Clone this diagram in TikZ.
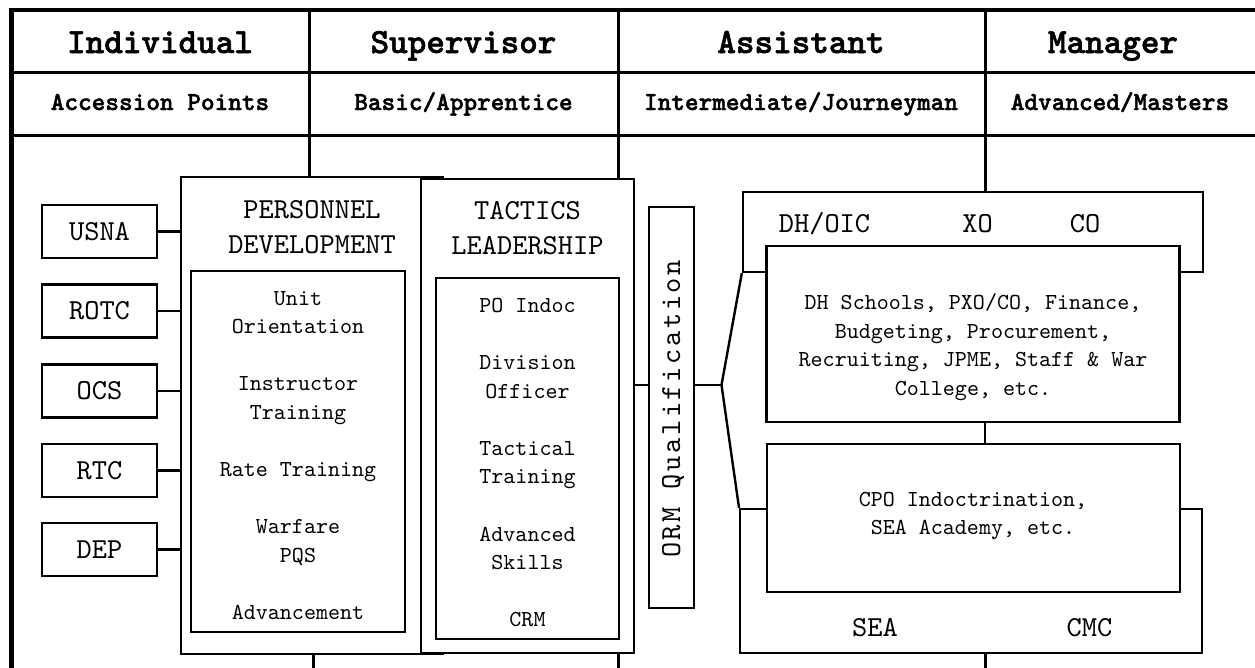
\documentclass[tikz,border=0pt]{standalone}
\usepackage{fontspec}
\setmainfont{lmmono10-regular}[Extension=.otf, BoldFont=lmmonolt10-bold, BoldFeatures={FakeBold=1.6}]
\newfontfamily\ormfont{lmmono10-regular}[Extension=.otf, LetterSpace=9]
\begin{document}
\begin{tikzpicture}[x=1pt,y=-1pt,
    grid/.style={line width=3pt},
    frame/.style={line width=4.5pt},
    box/.style={draw, line width=2.4pt, fill=white, inner sep=0pt},
    conn/.style={line width=2.4pt},
    head/.style={font=\bfseries\fontsize{35.4}{35.4}\selectfont, anchor=base, inner sep=0pt},
    lvl/.style={font=\bfseries\fontsize{26}{26}\selectfont, anchor=base, inner sep=0pt},
    big/.style={font=\fontsize{29}{35}\selectfont, align=center, inner sep=0pt},
    small/.style={font=\fontsize{22.9}{28.6}\selectfont, align=center, inner sep=0pt}]
  \useasboundingbox (0,0) rectangle (1255,667);
  % table
  \coordinate (c1) at (309,10);
  \coordinate (c2) at (618,10);
  \coordinate (c3) at (985,10);
  \draw[grid] (11.7,72.5) -- (1262,72.5) (11.7,135) -- (1262,135);
  \foreach \cc in {c1,c2,c3}
    \draw[grid] (\cc) -- ++(0,125);
  \draw[frame] (11.7,672) -- (11.7,10) -- (1262,10);
  % column heads
  \node[head] (hind) at (160,53) {Individual};
  \node[head] (hsup) at (463.5,53) {Supervisor};
  \node[head] (hass) at (801,53) {Assistant};
  \node[head] (hman) at (1113,53) {Manager};
  \node[lvl] (lacc) at (160,110) {Accession Points};
  \node[lvl] (lbas) at (463.5,110) {Basic/Apprentice};
  \node[lvl] (lint) at (801,110) {Intermediate/Journeyman};
  \node[lvl] (ladv) at (1120,110) {Advanced/Masters};
  % development and leadership
  \node[box, minimum width=262, minimum height=477] (pers) at (312,415.5) {};
  \node[box, minimum width=213, minimum height=474] (tact) at (527.5,416) {};
  \node[box, minimum width=214, minimum height=361] (persin) at (298,451.5) {};
  \node[box, minimum width=183, minimum height=361] (tactin) at (527.5,458.5) {};
  \node[big] (perstitle) at (312,227.5) {PERSONNEL\\DEVELOPMENT};
  \node[big] (tacttitle) at (527.5,228) {TACTICS\\LEADERSHIP};
  \node[small] (perslist) at (298,455.5)
    {Unit\\Orientation\\[28.6pt]Instructor\\Training\\[28.6pt]Rate Training\\[28.6pt]Warfare\\PQS\\[28.6pt]Advancement};
  \node[small] (tactlist) at (527.5,462.5)
    {PO Indoc\\[28.6pt]Division\\Officer\\[28.6pt]Tactical\\Training\\[28.6pt]Advanced\\Skills\\[28.6pt]CRM};
  \draw[grid] (c1 |- 0,135) -- (c1 |- pers.north);
  \draw[grid] (c2 |- 0,135) -- (c2 |- tact.north);
  \draw[grid] (pers.south -| 313,0) -- ++(0,20);
  \draw[grid] (tact.south -| c2) -- ++(0,20);
  % accession points
  \foreach \nm/\yy in {USNA/231.5, ROTC/311, OCS/391, RTC/470.5, DEP/549.5}
    {
     \node[box, minimum width=115, minimum height=53, font=\fontsize{29}{29}\selectfont] (\nm) at (99.5,\yy) {\nm};
     \draw[conn] (\nm.east) -- (\nm.east -| pers.west);
    }
  % ORM
  \node[box, minimum width=45, minimum height=401] (orm) at (671.5,407.5) {};
  \node[rotate=90, font=\ormfont\fontsize{29}{29}\selectfont, inner sep=0pt] (ormtxt) at (673,409) {ORM Qualification};
  \coordinate (jn) at (721.5,385);
  \draw[conn] (tact.east |- jn) -- (orm.west |- jn) (orm.east |- jn) -- (jn);
  % officer and enlisted paths
  \node[box, minimum width=460, minimum height=80] (dh) at (973,232) {};
  \node[box, minimum width=413, minimum height=176] (school) at (973,334) {};
  \node[box, minimum width=461.6, minimum height=144] (sea) at (971,581) {};
  \node[box, minimum width=413, minimum height=148] (cpo) at (973.5,518) {};
  \node[big, anchor=base] (dhoic) at (824.5,232) {DH/OIC};
  \node[big, anchor=base] (xo) at (977.5,232) {XO};
  \node[big, anchor=base] (co) at (1085,232) {CO};
  \node[big, anchor=base] (seal) at (875,636) {SEA};
  \node[big, anchor=base] (cmc) at (1089.5,636) {CMC};
  \node[small] (schooltxt) at (973,347)
    {DH Schools, PXO/CO, Finance,\\Budgeting, Procurement,\\Recruiting, JPME, Staff \& War\\College, etc.};
  \node[small] (cpotxt) at (973,516) {CPO Indoctrination,\\SEA Academy, etc.};
  \draw[conn] (dh.south west) -- (jn) -- (sea.north west);
  \draw[grid] (c3 |- 0,135) -- (c3 |- dh.north);
  \draw[conn] (school.south -| c3) -- (cpo.north -| c3);
  \draw[grid] (sea.south -| c3) -- ++(0,20);
\end{tikzpicture}
\end{document}
